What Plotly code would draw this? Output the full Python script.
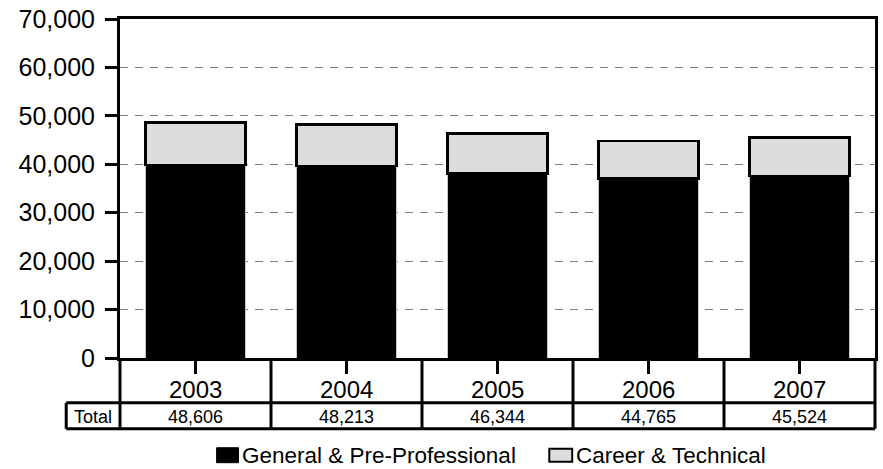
import plotly.graph_objects as go

# ---- data ----
years = ["2003", "2004", "2005", "2006", "2007"]
general = [39900, 39600, 38150, 37050, 37600]
career = [8706, 8613, 8194, 7715, 7924]
totals = [48606, 48213, 46344, 44765, 45524]
series_names = ["General & Pre-Professional", "Career & Technical"]
y_ticks = [0, 10000, 20000, 30000, 40000, 50000, 60000, 70000]

FONT = "Liberation Sans, Arial, sans-serif"
W, H = 883, 469
L, R, T, B = 120, 5, 18, 111
PW, PH = W - L - R, H - T - B


def px(x):
    return (x - L) / PW


def py(y):
    return (H - B - y) / PH


fig = go.Figure()
fig.add_trace(go.Bar(
    x=years, y=general, name=series_names[0],
    marker=dict(color="#000000", line=dict(color="#c8c8c8", width=1)),
    showlegend=False,
))
fig.add_trace(go.Bar(
    x=years, y=career, name=series_names[1],
    marker=dict(color="#dddddd", line=dict(color="#000000", width=2.5)),
    showlegend=False,
))

shapes = []
lw = 3
# table horizontal lines
for yy in (403, 429):
    shapes.append(dict(type="line", xref="paper", yref="paper",
                       x0=px(66), x1=1, y0=py(yy), y1=py(yy),
                       line=dict(color="black", width=lw)))
# table vertical lines (category boundaries)
n = len(years)
for k in range(n + 1):
    shapes.append(dict(type="line", xref="paper", yref="paper",
                       x0=k / n, x1=k / n, y0=0, y1=py(429),
                       line=dict(color="black", width=lw)))
# left edge of "Total" header cell
shapes.append(dict(type="line", xref="paper", yref="paper",
                   x0=px(66), x1=px(66), y0=py(403), y1=py(429),
                   line=dict(color="black", width=lw)))

# manual legend
shapes.append(dict(type="rect", xref="paper", yref="paper",
                   x0=px(217), x1=px(239), y0=py(448), y1=py(463),
                   fillcolor="black", line=dict(color="black", width=1)))
shapes.append(dict(type="rect", xref="paper", yref="paper",
                   x0=px(551), x1=px(574), y0=py(449), y1=py(462),
                   fillcolor="#dddddd", line=dict(color="black", width=2)))

annotations = []
for i, yr in enumerate(years):
    annotations.append(dict(x=i, xref="x", y=py(390), yref="paper",
                            text=yr, showarrow=False, xanchor="center",
                            yanchor="middle",
                            font=dict(family=FONT, size=24, color="black")))
for i, tot in enumerate(totals):
    annotations.append(dict(x=i, xref="x", y=py(417), yref="paper",
                            text=f"{tot:,}", showarrow=False, xanchor="center",
                            yanchor="middle",
                            font=dict(family=FONT, size=18, color="black")))
annotations.append(dict(x=px(93), xref="paper", y=py(417), yref="paper",
                        text="Total", showarrow=False, xanchor="center",
                        yanchor="middle",
                        font=dict(family=FONT, size=18, color="black")))
annotations.append(dict(x=px(240), xref="paper", y=py(455.5), yref="paper",
                        text=series_names[0], showarrow=False, xanchor="left",
                        yanchor="middle",
                        font=dict(family=FONT, size=22.5, color="black")))
annotations.append(dict(x=px(576), xref="paper", y=py(455.5), yref="paper",
                        text=series_names[1], showarrow=False, xanchor="left",
                        yanchor="middle",
                        font=dict(family=FONT, size=22.5, color="black")))

fig.update_layout(
    width=W, height=H,
    margin=dict(l=L, r=R, t=T, b=B, pad=0),
    paper_bgcolor="white", plot_bgcolor="white",
    barmode="stack", bargap=0.34,
    font=dict(family=FONT, color="black"),
    shapes=shapes, annotations=annotations,
    xaxis=dict(type="category", range=[-0.5, len(years) - 0.5],
               showline=True, linecolor="black", linewidth=lw,
               mirror=True, ticks="outside", ticklen=13, tickwidth=lw,
               tickcolor="black", showticklabels=False, showgrid=False,
               zeroline=False),
    yaxis=dict(range=[0, 70000], tickvals=y_ticks, tickformat=",",
               showline=True, linecolor="black", linewidth=lw, mirror=True,
               ticks="outside", ticklen=12, tickwidth=lw, tickcolor="black",
               tickfont=dict(family=FONT, size=25, color="black"),
               ticklabelstandoff=5,
               showgrid=True, gridcolor="#808080", gridwidth=1,
               griddash="8px,7px", zeroline=False),
)

fig.write_html(
    "out.html",
    config={"displayModeBar": False},
    post_script="document.body.style.margin='0px';document.body.style.overflow='hidden';",
)
